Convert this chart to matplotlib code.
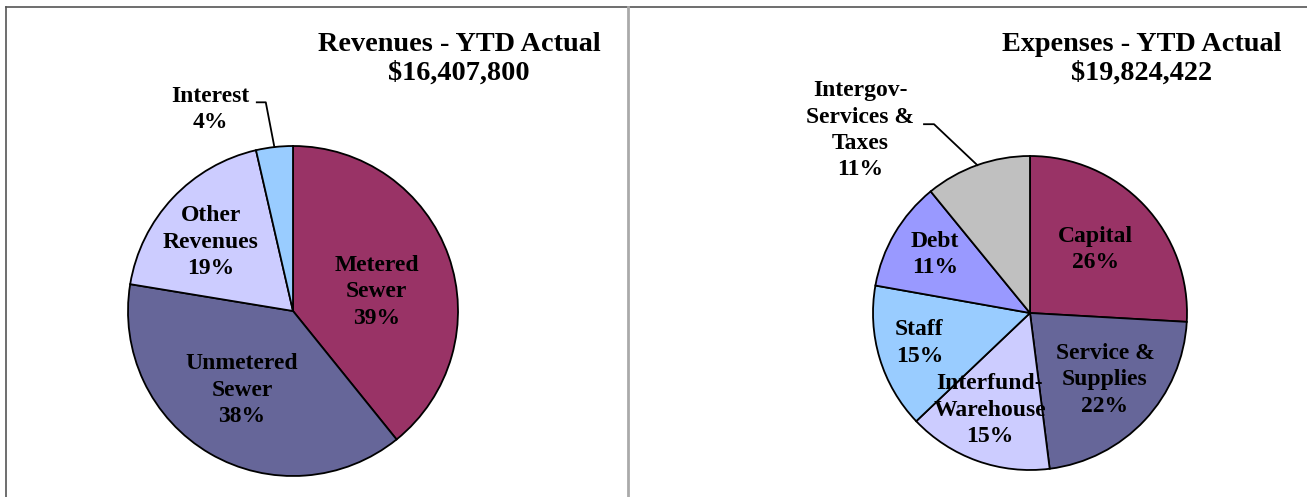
import numpy as np
import matplotlib
matplotlib.use('Agg')
import matplotlib.pyplot as plt

# Data (percent of YTD actual).
rev_labels = ['Metered\nSewer', 'Unmetered\nSewer', 'Other\nRevenues', 'Interest']
rev_values = [39.2, 38.4, 18.8, 3.6]
rev_colors = ['#993366', '#666699', '#CCCCFF', '#99CCFF']
rev_title = 'Revenues - YTD Actual\n$16,407,800'

exp_labels = ['Capital', 'Service &\nSupplies', 'Interfund-\nWarehouse', 'Staff', 'Debt',
              'Intergov-\nServices &\nTaxes']
exp_values = [25.9, 22.1, 14.9, 14.9, 11.3, 10.9]
exp_colors = ['#993366', '#666699', '#CCCCFF', '#99CCFF', '#9999FF', '#C0C0C0']
exp_title = 'Expenses - YTD Actual\n$19,824,422'

W, H = 1307, 497
plt.rcParams['font.family'] = ['Liberation Serif', 'DejaVu Serif']

fig = plt.figure(figsize=(W / 100, H / 100), dpi=100)
ax = fig.add_axes([0, 0, 1, 1])


def img(x, y):
    # image pixel coords -> axes data coords (y up)
    return x, H - y


def draw_pie(values, labels, colors, center, radius, lab_r, lab_dt, outside, title, title_xy):
    wedges, _ = ax.pie(values, colors=colors, startangle=90, counterclock=False,
                       center=center, radius=radius, frame=True,
                       wedgeprops=dict(edgecolor='black', linewidth=1.3))
    total = sum(values)
    for i, w in enumerate(wedges):
        mid = (w.theta1 + w.theta2) / 2
        th = np.radians(mid + lab_dt[i])
        tx = center[0] + lab_r[i] * radius * np.cos(th)
        ty = center[1] + lab_r[i] * radius * np.sin(th)
        txt = f'{labels[i]}\n{values[i] / total * 100:.0f}%'
        ax.text(tx, ty, txt, ha='center', va='center', fontsize=17,
                fontweight='bold', linespacing=1.33)
        if i in outside:
            # leader line from label to wedge edge
            (sx, sy), (kx, ky) = outside[i]
            ex = center[0] + radius * np.cos(np.radians(mid))
            ey = center[1] + radius * np.sin(np.radians(mid))
            ax.plot([tx + sx, tx + kx, ex], [ty + sy, ty + ky, ey],
                    color='black', lw=1.3)
    ax.text(title_xy[0], title_xy[1], title, ha='center', va='center', fontsize=20.3,
            fontweight='bold', linespacing=1.22)


draw_pie(rev_values, rev_labels, rev_colors, img(293, 311), 165,
         lab_r=[0.52, 0.57, 0.65, 1.32], lab_dt=[-6.6, -2.6, 3.3, 15.7],
         outside={3: ((46, 7), (55, 7))},
         title=rev_title, title_xy=img(459, 59))

draw_pie(exp_values, exp_labels, exp_colors, img(1030, 313), 157,
         lab_r=[0.58, 0.64, 0.67, 0.73, 0.71, 1.59], lab_dt=[0.7, 1.2, -2.8, -1.5, -1.4, 23.3],
         outside={5: ((64, 6), (74, 6))},
         title=exp_title, title_xy=img(1142, 59))

# panel frame lines
ax.plot([6, W], [H - 7, H - 7], color='#555555', lw=1.2)
ax.plot([6, 6], [0, H - 7], color='#555555', lw=1.2)
ax.plot([628, 628], [0, H - 7], color='#AAAAAA', lw=2)

ax.set_xlim(0, W)
ax.set_ylim(0, H)
ax.set_axis_off()

fig.savefig('out.png', dpi=100, facecolor='white')
